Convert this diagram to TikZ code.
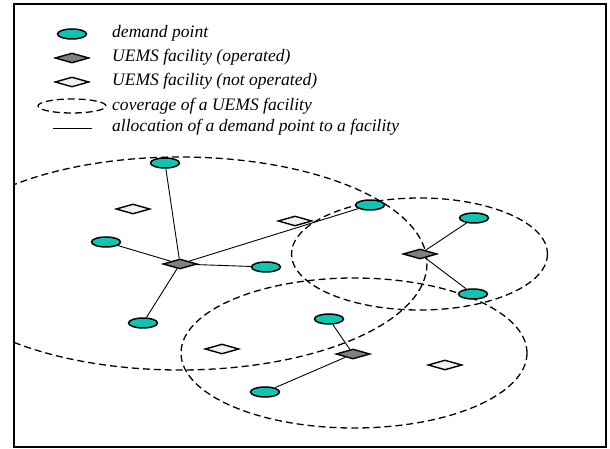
\documentclass[tikz,border=0pt]{standalone}
\usepackage{fontspec}
\setmainfont{Liberation Serif}
\usetikzlibrary{shapes.geometric}
\definecolor{demandcol}{RGB}{16,196,180}
\definecolor{opcol}{RGB}{128,128,128}
\definecolor{nopcol}{RGB}{242,242,242}
\tikzset{
  demand/.style={ellipse,draw=black,line width=1.5pt,fill=demandcol,minimum width=29bp,minimum height=10bp,inner sep=0pt},
  fac/.style={diamond,draw=black,line width=1.4pt,minimum width=34bp,minimum height=10bp,inner sep=0pt},
  opfac/.style={fac,fill=opcol},
  nopfac/.style={fac,fill=nopcol},
  cover/.style={draw=black,line width=1.3pt,dash pattern=on 7bp off 4bp},
  alloc/.style={draw=black,line width=0.9pt},
  legtext/.style={anchor=west,inner sep=0pt,font=\fontsize{17.6}{20}\selectfont\itshape}
}
\begin{document}
\begin{tikzpicture}[x=1bp,y=-1bp]
\useasboundingbox (0,0) rectangle (610,449);
% legend
\node[demand] (ld) at (72,34) {};
\node[opfac] (lo) at (72,58) {};
\node[nopfac] (ln) at (72,82) {};
\node[ellipse,cover,minimum width=68bp,minimum height=14bp,inner sep=0pt] (lc) at (72,106) {};
\coordinate (la1) at (53,128);
\coordinate (la2) at (92,128);
\draw[alloc] (la1) -- (la2);
\node[legtext] (t1) at (112,33) {demand point};
\node[legtext] (t2) at (112,57) {UEMS facility (operated)};
\node[legtext] (t3) at (112,81) {UEMS facility (not operated)};
\node[legtext] (t4) at (112,106) {coverage of a UEMS facility};
\node[legtext] (t5) at (112,127) {allocation of a demand point to a facility};
% coverage areas
\begin{scope}
\clip (14,4) rectangle (606,447);
\draw[cover] (180,263.5) ellipse [x radius=247,y radius=106.5];
\end{scope}
\draw[cover] (419.5,254) ellipse [x radius=128,y radius=56];
\draw[cover] (354,353) ellipse [x radius=173,y radius=75];
% facilities
\node[opfac] (f1) at (180,264) {};
\node[opfac] (f2) at (420,254) {};
\node[opfac] (f3) at (353,354) {};
\node[nopfac] (n1) at (133,209) {};
\node[nopfac] (n2) at (295,221) {};
\node[nopfac] (n3) at (222,349) {};
\node[nopfac] (n4) at (445,365) {};
% demand points
\node[demand] (d1) at (165,163) {};
\node[demand] (d2) at (106,242) {};
\node[demand] (d3) at (266,267) {};
\node[demand] (d4) at (143,323) {};
\node[demand] (d5) at (370,205) {};
\node[demand] (d6) at (474,218) {};
\node[demand] (d7) at (473,294) {};
\node[demand] (d8) at (329,319) {};
\node[demand] (d9) at (265,392) {};
% allocations
\draw[alloc] (f1) -- (d1);
\draw[alloc] (f1) -- (d2);
\draw[alloc] (f1) -- (d3);
\draw[alloc] (f1) -- (d4);
\draw[alloc] (f1) -- (d5);
\draw[alloc] (f2) -- (d6);
\draw[alloc] (f2) -- (d7);
\draw[alloc] (f3) -- (d8);
\draw[alloc] (f3) -- (d9);
% frame
\draw[line width=2.6pt] (14,4) rectangle (606,447);
\end{tikzpicture}
\end{document}
